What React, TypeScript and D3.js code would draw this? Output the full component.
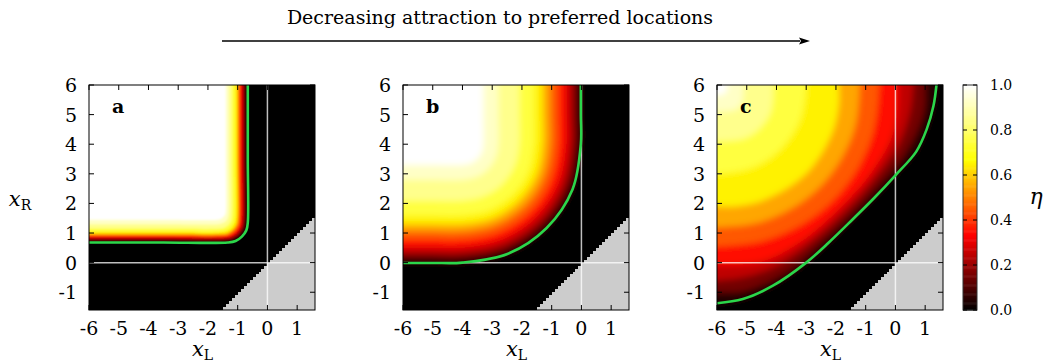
import React from 'react'
import * as d3 from 'd3'

const xTicks = [-6, -5, -4, -3, -2, -1, 0, 1]
const yTicks = [-1, 0, 1, 2, 3, 4, 5, 6]
const cbTicks = [0, 0.2, 0.4, 0.6, 0.8, 1.0]
const panelLabels = ['a', 'b', 'c']
const levels = [0, 0.1, 0.2, 0.3, 0.4, 0.5, 0.6, 0.7, 0.8, 0.9, 0.95]

// iso-lines of eta, [xL, xR] from the top edge round to the left edge
const contoursA = [
  [[-0.66, 6], [-0.66, 3.5], [-0.66, 1.35], [-0.71, 1.09], [-0.86, 0.88], [-1.07, 0.73], [-1.33, 0.68], [-3.5, 0.68], [-6, 0.68]],
  [[-0.76, 6], [-0.76, 3.5], [-0.76, 1.385], [-0.81, 1.15], [-0.94, 0.94], [-1.15, 0.81], [-1.385, 0.76], [-3.5, 0.76], [-6, 0.76]],
  [[-0.8, 6], [-0.8, 3.5], [-0.8, 1.405], [-0.85, 1.17], [-0.98, 0.98], [-1.17, 0.85], [-1.405, 0.8], [-3.5, 0.8], [-6, 0.8]],
  [[-0.86, 6], [-0.86, 3.5], [-0.86, 1.43], [-0.9, 1.21], [-1.03, 1.02], [-1.22, 0.89], [-1.44, 0.85], [-3.5, 0.85], [-6, 0.85]],
  [[-0.92, 6], [-0.92, 3.5], [-0.92, 1.44], [-0.96, 1.23], [-1.08, 1.05], [-1.26, 0.93], [-1.47, 0.89], [-3.5, 0.89], [-6, 0.89]],
  [[-0.97, 6], [-0.97, 3.5], [-0.97, 1.46], [-1.01, 1.26], [-1.13, 1.09], [-1.3, 0.97], [-1.5, 0.93], [-3.5, 0.93], [-6, 0.93]],
  [[-1.02, 6], [-1.02, 3.5], [-1.02, 1.48], [-1.06, 1.29], [-1.17, 1.13], [-1.33, 1.02], [-1.52, 0.98], [-3.5, 0.98], [-6, 0.98]],
  [[-1.1, 6], [-1.1, 3.5], [-1.1, 1.52], [-1.14, 1.34], [-1.24, 1.19], [-1.39, 1.09], [-1.57, 1.05], [-3.5, 1.05], [-6, 1.05]],
  [[-1.2, 6], [-1.2, 3.5], [-1.2, 1.57], [-1.23, 1.41], [-1.32, 1.27], [-1.46, 1.18], [-1.62, 1.15], [-3.5, 1.15], [-6, 1.15]],
  [[-1.3, 6], [-1.3, 3.5], [-1.3, 1.66], [-1.33, 1.52], [-1.4, 1.4], [-1.52, 1.33], [-1.66, 1.3], [-3.5, 1.3], [-6, 1.3]],
  [[-1.4, 6], [-1.4, 3.5], [-1.4, 1.74], [-1.42, 1.63], [-1.49, 1.54], [-1.58, 1.47], [-1.69, 1.45], [-3.5, 1.45], [-6, 1.45]],
]

const contoursB = [
  [[-0.02, 6], [-0.02, 5], [-0.02, 4], [-0.3, 2.47], [-1.17, 1.17], [-2.47, 0.3], [-4, 0], [-5, -0.01], [-6, -0.01]],
  [[-0.14, 6], [-0.14, 5], [-0.14, 4], [-0.43, 2.52], [-1.27, 1.27], [-2.52, 0.43], [-4, 0.14], [-5, 0.14], [-6, 0.14]],
  [[-0.3, 6], [-0.3, 5], [-0.3, 4], [-0.58, 2.58], [-1.38, 1.38], [-2.58, 0.58], [-4, 0.3], [-5, 0.3], [-6, 0.3]],
  [[-0.5, 6], [-0.5, 5], [-0.5, 4], [-0.77, 2.66], [-1.53, 1.53], [-2.66, 0.77], [-4, 0.5], [-5, 0.5], [-6, 0.5]],
  [[-0.78, 6], [-0.78, 5], [-0.78, 4], [-1.03, 2.77], [-1.72, 1.72], [-2.77, 1.03], [-4, 0.78], [-5, 0.78], [-6, 0.78]],
  [[-1.05, 6], [-1.05, 5], [-1.05, 4], [-1.28, 2.87], [-1.91, 1.91], [-2.87, 1.28], [-4, 1.05], [-5, 1.05], [-6, 1.05]],
  [[-1.3, 6], [-1.3, 5], [-1.3, 4], [-1.5, 2.97], [-2.09, 2.09], [-2.97, 1.5], [-4, 1.3], [-5, 1.3], [-6, 1.3]],
  [[-1.6, 6], [-1.6, 5], [-1.6, 4], [-1.78, 3.08], [-2.3, 2.3], [-3.08, 1.78], [-4, 1.6], [-5, 1.6], [-6, 1.6]],
  [[-2.1, 6], [-2.1, 5], [-2.1, 4], [-2.25, 3.27], [-2.66, 2.66], [-3.27, 2.25], [-4, 2.1], [-5, 2.1], [-6, 2.1]],
  [[-2.8, 6], [-2.8, 5], [-2.8, 4], [-2.89, 3.54], [-3.15, 3.15], [-3.54, 2.89], [-4, 2.8], [-5, 2.8], [-6, 2.8]],
  [[-3.3, 6], [-3.3, 5], [-3.3, 4], [-3.35, 3.73], [-3.5, 3.5], [-3.73, 3.35], [-4, 3.3], [-5, 3.3], [-6, 3.3]],
]

const contoursC = [
  [[1.38, 6], [1.28, 5.3], [1.05, 4.5], [0.7, 3.75], [0, 2.95], [-0.7, 2.2], [-1.45, 1.45], [-2.24, 0.68], [-3.0, 0.0], [-4.12, -0.78], [-5.13, -1.23], [-6, -1.37]],
  [[1.0, 6], [0.95, 5.05], [0.33, 3.68], [-0.58, 2.58], [-1.55, 1.55], [-2.58, 0.58], [-3.68, -0.33], [-5.05, -0.95], [-6, -1.0]],
  [[0.6, 6], [0.48, 5.03], [0.08, 3.93], [-0.75, 2.75], [-1.7, 1.7], [-2.75, 0.75], [-3.93, -0.08], [-5.03, -0.48], [-6, -0.6]],
  [[0.1, 6], [0.05, 4.95], [-0.15, 4.15], [-0.9, 2.9], [-1.85, 1.85], [-2.9, 0.9], [-4.15, 0.15], [-4.95, -0.05], [-6, -0.1]],
  [[-0.55, 6], [-0.73, 4.48], [-1.26, 3.2], [-2.1, 2.1], [-3.2, 1.26], [-4.48, 0.73], [-6, 0.55]],
  [[-1.2, 6], [-1.35, 4.62], [-1.82, 3.51], [-2.55, 2.55], [-3.51, 1.82], [-4.62, 1.35], [-6, 1.2]],
  [[-1.9, 6], [-1.9, 5.36], [-2.12, 4.39], [-3.0, 3.0], [-4.39, 2.12], [-5.36, 1.9], [-6, 1.9]],
  [[-3.0, 6], [-3.22, 4.79], [-3.85, 3.85], [-4.79, 3.22], [-6, 3.0]],
  [[-4.1, 6], [-4.2, 5.08], [-4.55, 4.55], [-5.08, 4.2], [-6, 4.1]],
  [[-5.1, 6], [-5.25, 5.25], [-6, 5.1]],
  [[-5.65, 6], [-5.72, 5.72], [-6, 5.65]],
]

const W = 1047
const H = 364
const plotTop = 85
const plotBottom = 310
const plotW = 226
const panelLefts = [89, 403, 717]
const xDomain = [-6, 1.6]
const yDomain = [-1.6, 6]
const font = "'DejaVu Serif', 'Noto Serif', 'Liberation Serif', serif"
const green = '#2bd64b'

const clamp = (v: number) => Math.max(0, Math.min(1, v))
// gnuplot "hot" palette (rgbformulae 21,22,23)
const hot = (v: number) =>
  d3.rgb(255 * clamp(3 * v), 255 * clamp(3 * v - 1), 255 * clamp(3 * v - 2)).toString()

type Pt = [number, number]

function Panel({ idx, contours, blur }: { idx: number; contours: number[][][]; blur: number }) {
  const left = panelLefts[idx]
  const x = d3.scaleLinear().domain(xDomain).range([left, left + plotW])
  const y = d3.scaleLinear().domain(yDomain).range([plotBottom, plotTop])
  const line = d3
    .line<Pt>()
    .x((d) => x(d[0]))
    .y((d) => y(d[1]))
    .curve(d3.curveCatmullRom.alpha(0.5))

  const ext = 0.8
  const bandPath = (pts: Pt[]) => {
    const first = pts[0]
    const last = pts[pts.length - 1]
    const e: Pt[] = [[first[0], yDomain[1] + ext], ...pts, [xDomain[0] - ext, last[1]]]
    return line(e) + `L${x(xDomain[0] - ext)},${y(yDomain[1] + ext)}Z`
  }

  // grey staircase where xL > xR (cells of 0.1)
  const cols = d3.range(0, 32).map((i) => -1.6 + i * 0.1)
  let stair = `M${x(-1.6)},${y(-1.6)}`
  cols.forEach((x0) => {
    stair += `L${x(x0)},${y(x0)}L${x(x0 + 0.1)},${y(x0)}`
  })
  stair += `L${x(1.6)},${y(-1.6)}Z`

  const clipId = `clip${idx}`
  const blurId = `blur${idx}`
  const tl = 5

  return (
    <g>
      <defs>
        <clipPath id={clipId}>
          <rect x={x(xDomain[0])} y={y(yDomain[1])} width={plotW} height={plotBottom - plotTop} />
        </clipPath>
        <filter id={blurId} x="-10%" y="-10%" width="120%" height="120%">
          <feGaussianBlur stdDeviation={blur} />
        </filter>
      </defs>
      <g clipPath={`url(#${clipId})`}>
        <g filter={`url(#${blurId})`}>
          <rect
            x={x(xDomain[0] - ext)}
            y={y(yDomain[1] + ext)}
            width={x(xDomain[1] + ext) - x(xDomain[0] - ext)}
            height={y(yDomain[0] - ext) - y(yDomain[1] + ext)}
            fill="black"
          />
          {contours.map((pts, k) => {
            const mid = k < levels.length - 1 ? (levels[k] + levels[k + 1]) / 2 : 1
            return <path key={k} d={bandPath(pts as Pt[])} fill={hot(mid)} />
          })}
        </g>
        <path d={stair} fill="#cccccc" shapeRendering="crispEdges" />
        <line x1={x(0)} x2={x(0)} y1={plotTop} y2={plotBottom} stroke="white" strokeOpacity={0.75} strokeWidth={1.5} />
        <line x1={x(xDomain[0])} x2={x(xDomain[1])} y1={y(0)} y2={y(0)} stroke="white" strokeOpacity={0.75} strokeWidth={1.5} />
        <path d={line(contours[0] as Pt[]) || ''} fill="none" stroke={green} strokeWidth={2.6} />
      </g>
      <rect x={x(xDomain[0])} y={plotTop} width={plotW} height={plotBottom - plotTop} fill="none" stroke="black" strokeWidth={1} />
      {xTicks.map((t) => (
        <g key={'x' + t}>
          <line x1={x(t)} x2={x(t)} y1={plotBottom} y2={plotBottom - tl} stroke="black" />
          <line x1={x(t)} x2={x(t)} y1={plotTop} y2={plotTop + tl} stroke="black" />
          <text x={x(t)} y={plotBottom + 25} textAnchor="middle" fontSize={19} style={{ fontFamily: font }}>
            {t}
          </text>
        </g>
      ))}
      {yTicks.map((t) => (
        <g key={'y' + t}>
          <line x1={x(xDomain[0])} x2={x(xDomain[0]) + tl} y1={y(t)} y2={y(t)} stroke="black" />
          <line x1={x(xDomain[1])} x2={x(xDomain[1]) - tl} y1={y(t)} y2={y(t)} stroke="black" />
          <text x={x(xDomain[0]) - 12} y={y(t) + 7} textAnchor="end" fontSize={19} style={{ fontFamily: font }}>
            {t}
          </text>
        </g>
      ))}
      <text x={left + 23} y={113} fontSize={19} fontWeight="bold" style={{ fontFamily: font }}>
        {panelLabels[idx]}
      </text>
      <text x={left + plotW / 2 - 10} y={356} style={{ fontFamily: font }}>
        <tspan fontStyle="italic" fontSize={21}>x</tspan>
        <tspan fontSize={14} dy={4}>L</tspan>
      </text>
    </g>
  )
}

export default function App() {
  const cbX = 963
  const cbW = 14
  const cbY = d3.scaleLinear().domain([0, 1]).range([plotBottom, plotTop])
  const strips = d3.range(0, 1, 0.005)
  const arrowY = 41
  return (
    <svg width={W} height={H} style={{ position: 'absolute', left: 0, top: 0, fontFamily: font }}>
      <rect width={W} height={H} fill="white" />
      <text x={500} y={24} textAnchor="middle" fontSize={19} style={{ fontFamily: font }}>
        Decreasing attraction to preferred locations
      </text>
      <line x1={222} x2={800} y1={arrowY} y2={arrowY} stroke="black" strokeWidth={1.4} />
      <path d={`M810,${arrowY}L799,${arrowY - 3.5}L801,${arrowY}L799,${arrowY + 3.5}Z`} fill="black" />

      <Panel idx={0} contours={contoursA} blur={0.9} />
      <Panel idx={1} contours={contoursB} blur={3} />
      <Panel idx={2} contours={contoursC} blur={3} />

      <text x={20} y={206} textAnchor="middle" style={{ fontFamily: font }}>
        <tspan fontStyle="italic" fontSize={21}>x</tspan>
        <tspan fontSize={14} dy={4}>R</tspan>
      </text>

      {strips.map((v) => (
        <rect key={v} x={cbX} y={cbY(v + 0.005)} width={cbW} height={cbY(v) - cbY(v + 0.005) + 0.5} fill={hot(v + 0.0025)} />
      ))}
      <rect x={cbX} y={plotTop} width={cbW} height={plotBottom - plotTop} fill="none" stroke="#333" strokeWidth={1} />
      {cbTicks.map((t) => (
        <g key={t}>
          <line x1={cbX} x2={cbX + 4} y1={cbY(t)} y2={cbY(t)} stroke="black" />
          <line x1={cbX + cbW} x2={cbX + cbW - 4} y1={cbY(t)} y2={cbY(t)} stroke="black" />
          <text x={990} y={cbY(t) + 5} fontSize={14} style={{ fontFamily: font }}>
            {t.toFixed(1)}
          </text>
        </g>
      ))}
      <text x={1036} y={204} textAnchor="middle" fontStyle="italic" fontSize={22} style={{ fontFamily: font }}>
        η
      </text>
    </svg>
  )
}
